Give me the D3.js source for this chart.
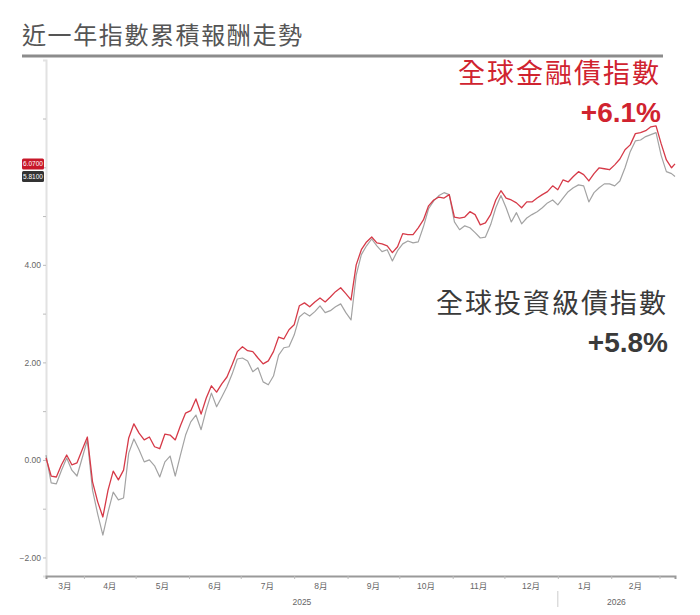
<!DOCTYPE html>
<html>
<head>
<meta charset="utf-8">
<script src="https://cdn.jsdelivr.net/npm/d3@7"></script>
<style>
  html, body { margin: 0; padding: 0; background: #fff; }
  svg { display: block; }
</style>
</head>
<body>
<div id="chart"></div>
<script>
// one year of cumulative return (%), one reading every 3 days from 2025-03-10, last reading 2026-03-10
const START_DATE = '2025-03-10';
const END_DATE = '2026-03-10';
const DAY_STEP = 3;

const financialSeries = [
  0.04, -0.33, -0.35, -0.10, 0.10, -0.10, -0.06, 0.21, 0.47, -0.45,
  -0.86, -1.17, -0.62, -0.23, -0.41, -0.21, 0.45, 0.74, 0.55, 0.41,
  0.47, 0.27, 0.23, 0.53, 0.51, 0.41, 0.70, 0.96, 1.01, 1.25,
  0.94, 1.27, 1.52, 1.39, 1.56, 1.70, 1.95, 2.22, 2.32, 2.24,
  2.22, 2.09, 1.97, 2.03, 2.22, 2.52, 2.48, 2.67, 2.77, 3.16,
  3.22, 3.14, 3.24, 3.32, 3.24, 3.34, 3.45, 3.53, 3.41, 3.28,
  4.00, 4.31, 4.47, 4.57, 4.45, 4.43, 4.39, 4.25, 4.37, 4.64,
  4.62, 4.62, 4.76, 4.92, 5.21, 5.33, 5.39, 5.37, 5.44, 4.98,
  4.96, 4.98, 5.09, 5.03, 4.82, 4.86, 5.03, 5.33, 5.52, 5.37,
  5.33, 5.27, 5.17, 5.29, 5.29, 5.37, 5.44, 5.50, 5.62, 5.54,
  5.74, 5.70, 5.81, 5.91, 5.85, 5.72, 5.87, 5.99, 5.97, 5.95,
  6.05, 6.17, 6.36, 6.46, 6.69, 6.71, 6.75, 6.83, 6.85, 6.48,
  6.15, 5.99, 6.07
];

const investmentGradeSeries = [
  0.10, -0.47, -0.49, -0.21, 0.04, -0.21, -0.33, 0.04, 0.41, -0.62,
  -1.11, -1.54, -1.07, -0.66, -0.82, -0.78, 0.14, 0.43, 0.21, -0.04,
  0.00, -0.12, -0.35, -0.04, 0.08, -0.33, 0.10, 0.51, 0.78, 0.92,
  0.62, 1.03, 1.37, 1.09, 1.29, 1.50, 1.76, 2.07, 2.09, 2.03,
  1.81, 1.89, 1.60, 1.54, 1.72, 2.15, 2.30, 2.32, 2.56, 2.93,
  3.02, 2.95, 3.04, 3.16, 3.02, 3.06, 3.14, 3.20, 3.02, 2.87,
  3.79, 4.21, 4.39, 4.53, 4.39, 4.27, 4.31, 4.08, 4.29, 4.43,
  4.49, 4.45, 4.47, 4.78, 5.15, 5.31, 5.42, 5.48, 5.44, 4.88,
  4.72, 4.80, 4.76, 4.66, 4.55, 4.57, 4.82, 5.17, 5.42, 5.17,
  4.88, 5.07, 4.84, 4.96, 5.03, 5.09, 5.17, 5.27, 5.33, 5.23,
  5.37, 5.50, 5.58, 5.64, 5.62, 5.29, 5.48, 5.58, 5.66, 5.66,
  5.62, 5.72, 5.99, 6.32, 6.54, 6.56, 6.63, 6.67, 6.71, 6.24,
  5.91, 5.87, 5.81
];

const Y_TICKS = [-2, -1, 0, 1, 2, 3, 4, 5, 6, 7];
const Y_LABELED = [-2, 0, 2, 4];
const YEAR_LABELS = ['2025', '2026'];

const TITLE = '近一年指數累積報酬走勢';
const FIN_NAME = '全球金融債指數';
const FIN_RETURN = '+6.1%';
const IG_NAME = '全球投資級債指數';
const IG_RETURN = '+5.8%';

const RED = '#d0232f';
const DARK = '#3a3a3a';
const CJK = '"Noto Sans CJK TC", "Noto Sans CJK SC", sans-serif';
const LATIN = '"Liberation Sans", Arial, sans-serif';
const NARROW = '"Liberation Sans Narrow", "Arial Narrow", "Liberation Sans", sans-serif';

const W = 700, H = 615;
const PLOT = { left: 46, right: 675, top: 60, bottom: 576 };

const parse = d3.timeParse('%Y-%m-%d');
const start = parse(START_DATE);
const end = parse(END_DATE);
const dates = financialSeries.map((_, i) =>
  i === financialSeries.length - 1 ? end : d3.timeDay.offset(start, i * DAY_STEP));

const svg = d3.select('#chart').append('svg')
  .attr('width', W)
  .attr('height', H)
  .attr('viewBox', `0 0 ${W} ${H}`);

// header
svg.append('text')
  .attr('x', 22).attr('y', 44)
  .style('font-family', CJK)
  .style('font-size', '24px')
  .style('letter-spacing', '1.6px')
  .style('fill', '#555')
  .text(TITLE);

svg.append('line')
  .attr('x1', 22).attr('x2', 663)
  .attr('y1', 56).attr('y2', 56)
  .style('stroke', '#8c8c8c')
  .style('stroke-width', 3);

const x = d3.scaleTime().domain([start, end]).range([PLOT.left, PLOT.right]);
const y = d3.scaleLinear().domain([-2.38, 8.2]).range([PLOT.bottom, PLOT.top]);

// y axis
const yAxisG = svg.append('g').attr('transform', `translate(${PLOT.left},0)`);
yAxisG.call(d3.axisLeft(y)
  .tickValues(Y_TICKS)
  .tickSize(3)
  .tickPadding(2)
  .tickFormat((d) => (Y_LABELED.includes(d) ? d3.format('.2f')(d) : '')));
yAxisG.select('.domain').style('stroke', '#e2e2e2').style('stroke-width', 2);
yAxisG.selectAll('line').style('stroke', '#bbb');
yAxisG.selectAll('text')
  .style('font-family', NARROW)
  .style('font-size', '8.5px')
  .style('fill', '#666');

// x axis: month boundaries as ticks, month names centred in each month
const monthStarts = d3.timeMonth.range(d3.timeMonth.ceil(start), end);
const xAxisG = svg.append('g').attr('transform', `translate(0,${PLOT.bottom})`);
xAxisG.call(d3.axisBottom(x).tickValues(monthStarts).tickSize(3).tickFormat(''));
xAxisG.select('.domain').style('stroke', '#9a9a9a').style('stroke-width', 2);
xAxisG.selectAll('line').style('stroke', '#bbb');

const monthSpans = [start, ...monthStarts].map((m, i, arr) => {
  const from = m;
  const to = i < arr.length - 1 ? arr[i + 1] : d3.timeMonth.offset(d3.timeMonth.floor(m), 1);
  return { from, to: to > end ? end : to };
}).filter((s) => (x(s.to) - x(s.from)) > 25);

svg.append('g').selectAll('text')
  .data(monthSpans)
  .join('text')
  .attr('x', (d) => (x(d.from) + x(d.to)) / 2)
  .attr('y', PLOT.bottom + 13)
  .attr('text-anchor', 'middle')
  .style('font-family', NARROW + ', ' + CJK)
  .style('font-size', '8.5px')
  .style('fill', '#666')
  .text((d) => `${d.from.getMonth() + 1}月`);

// year labels and separator
const yearStart = d3.timeYear.ceil(start);
const yearSpans = [[start, yearStart], [yearStart, end]];
svg.append('g').selectAll('text')
  .data(yearSpans)
  .join('text')
  .attr('x', (d) => (x(d[0]) + x(d[1])) / 2)
  .attr('y', PLOT.bottom + 29)
  .attr('text-anchor', 'middle')
  .style('font-family', NARROW)
  .style('font-size', '8.5px')
  .style('fill', '#666')
  .text((d, i) => YEAR_LABELS[i]);

svg.append('line')
  .attr('x1', x(yearStart)).attr('x2', x(yearStart))
  .attr('y1', PLOT.bottom + 15).attr('y2', PLOT.bottom + 31)
  .style('stroke', '#ccc');

// lines
const line = d3.line()
  .x((d) => x(d.date))
  .y((d) => y(d.value));

const igData = dates.map((date, i) => ({ date, value: investmentGradeSeries[i] }));
const finData = dates.map((date, i) => ({ date, value: financialSeries[i] }));

svg.append('path')
  .datum(igData)
  .attr('d', line)
  .style('fill', 'none')
  .style('stroke', '#a3a3a3')
  .style('stroke-width', 1.2)
  .style('stroke-linejoin', 'round');

svg.append('path')
  .datum(finData)
  .attr('d', line)
  .style('fill', 'none')
  .style('stroke', '#d63a48')
  .style('stroke-width', 1.3)
  .style('stroke-linejoin', 'round');

// last value tags on the y axis
const tags = [
  { value: financialSeries[financialSeries.length - 1], fill: '#c8182a' },
  { value: investmentGradeSeries[investmentGradeSeries.length - 1], fill: '#333' }
];
const tagG = svg.append('g').selectAll('g')
  .data(tags)
  .join('g')
  .attr('transform', (d) => `translate(22,${y(d.value) - 5.5})`);
tagG.append('rect')
  .attr('width', 22).attr('height', 11).attr('rx', 1.5)
  .style('fill', (d) => d.fill);
tagG.append('text')
  .attr('x', 11).attr('y', 8)
  .attr('text-anchor', 'middle')
  .style('font-family', NARROW)
  .style('font-size', '6.5px')
  .style('fill', '#fff')
  .text((d) => d3.format('.4f')(d.value));

// series annotations
const notes = [
  { name: FIN_NAME, ret: FIN_RETURN, x: 661, y: 83, color: RED },
  { name: IG_NAME, ret: IG_RETURN, x: 668, y: 313, color: DARK }
];
notes.forEach((n) => {
  svg.append('text')
    .attr('x', n.x).attr('y', n.y)
    .attr('text-anchor', 'end')
    .style('font-family', CJK)
    .style('font-size', '27px')
    .style('letter-spacing', '2px')
    .style('fill', n.color)
    .text(n.name);
  svg.append('text')
    .attr('x', n.x).attr('y', n.y + 39)
    .attr('text-anchor', 'end')
    .style('font-family', LATIN)
    .style('font-weight', 'bold')
    .style('font-size', '28px')
    .style('fill', n.color)
    .text(n.ret);
});
</script>
</body>
</html>
